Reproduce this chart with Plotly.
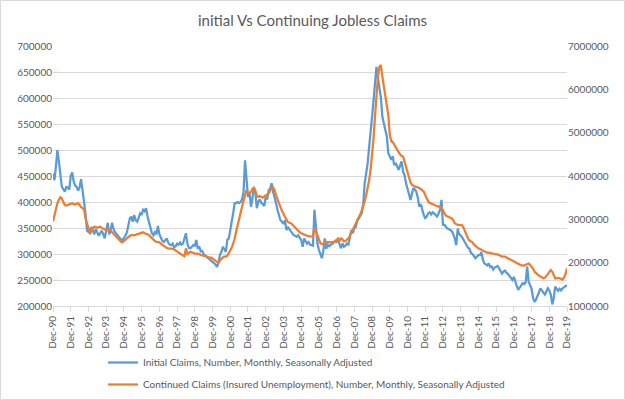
import pandas as pd
import plotly.graph_objects as go

# Monthly observations, Dec 1990 .. Dec 2019
months = pd.date_range("1990-12-01", "2019-12-01", freq="MS")

# Initial claims (thousands), first value = Dec-1990, then one row per year Jan..Dec
initial_claims_k = [
    455,
    442, 470, 500, 478, 455, 429, 425, 420, 429, 428, 424, 450,   # 1991
    457, 439, 432, 429, 422, 428, 444, 420, 405, 378, 345, 343,   # 1992
    340, 352, 345, 338, 348, 342, 335, 340, 345, 338, 330, 345,   # 1993
    360, 338, 345, 360, 348, 342, 338, 335, 332, 328, 327, 330,   # 1994
    335, 342, 352, 368, 372, 362, 375, 365, 362, 372, 378, 375,   # 1995
    385, 382, 388, 372, 360, 346, 340, 336, 342, 338, 354, 338,   # 1996
    330, 325, 323, 328, 330, 322, 318, 317, 320, 313, 315, 320,   # 1997
    318, 322, 318, 320, 328, 340, 320, 312, 311, 314, 317, 316,   # 1998
    327, 310, 315, 305, 306, 300, 298, 295, 292, 290, 288, 285,   # 1999
    282, 280, 275, 283, 298, 304, 314, 308, 304, 327, 330, 346,   # 2000
    360, 380, 398, 398, 400, 398, 400, 405, 420, 480, 445, 410,   # 2001
    417, 391, 405, 429, 420, 388, 400, 405, 398, 396, 392, 410,   # 2002
    405, 423, 425, 436, 420, 410, 398, 385, 372, 365, 362, 358,   # 2003
    365, 346, 352, 348, 343, 340, 336, 335, 333, 336, 330, 327,   # 2004
    314, 330, 325, 320, 323, 318, 317, 316, 385, 346, 320, 308,   # 2005
    300, 292, 305, 330, 310, 318, 315, 317, 320, 322, 325, 323,   # 2006
    327, 320, 311, 320, 314, 316, 320, 318, 330, 346, 340, 350,   # 2007
    352, 365, 368, 372, 378, 395, 436, 455, 474, 505, 530, 564,   # 2008
    596, 630, 660, 638, 615, 600, 564, 551, 538, 526, 494, 488,   # 2009
    481, 488, 471, 475, 470, 462, 470, 478, 458, 452, 436, 423,   # 2010
    415, 404, 418, 427, 424, 420, 408, 391, 396, 385, 375, 369,   # 2011
    372, 378, 380, 376, 380, 378, 375, 372, 378, 385, 404, 356,   # 2012
    356, 352, 349, 348, 346, 344, 338, 330, 317, 349, 338, 336,   # 2013
    332, 328, 322, 317, 312, 310, 302, 300, 296, 292, 295, 298,   # 2014
    298, 304, 290, 282, 280, 278, 282, 275, 276, 270, 274, 276,   # 2015
    277, 272, 268, 262, 266, 268, 264, 262, 258, 253, 250, 256,   # 2016
    245, 238, 231, 236, 240, 244, 242, 245, 276, 247, 240, 233,   # 2017
    215, 208, 212, 218, 226, 234, 230, 227, 222, 228, 234, 230,   # 2018
    222, 203, 214, 237, 232, 229, 233, 230, 234, 236, 238, 240,   # 2019
]

# Continued claims (millions), same months
continued_claims_m = [
    2.95,
    3.10, 3.25, 3.37, 3.45, 3.51, 3.48, 3.38, 3.33, 3.32, 3.33, 3.34, 3.35,   # 1991
    3.37, 3.35, 3.34, 3.36, 3.37, 3.33, 3.28, 3.26, 3.22, 3.02, 2.91, 2.78,   # 1992
    2.68, 2.72, 2.80, 2.83, 2.82, 2.81, 2.82, 2.83, 2.80, 2.79, 2.77, 2.75,   # 1993
    2.78, 2.77, 2.74, 2.71, 2.67, 2.64, 2.60, 2.56, 2.52, 2.48, 2.47, 2.50,   # 1994
    2.53, 2.57, 2.60, 2.62, 2.63, 2.64, 2.63, 2.64, 2.65, 2.66, 2.68, 2.69,   # 1995
    2.70, 2.68, 2.67, 2.66, 2.64, 2.60, 2.56, 2.52, 2.50, 2.48, 2.48, 2.47,   # 1996
    2.44, 2.41, 2.39, 2.36, 2.34, 2.33, 2.33, 2.33, 2.32, 2.31, 2.28, 2.25,   # 1997
    2.23, 2.21, 2.19, 2.17, 2.15, 2.33, 2.20, 2.22, 2.25, 2.24, 2.22, 2.21,   # 1998
    2.21, 2.21, 2.20, 2.18, 2.17, 2.17, 2.16, 2.14, 2.13, 2.11, 2.12, 2.10,   # 1999
    2.06, 2.04, 2.02, 2.00, 2.05, 2.09, 2.12, 2.14, 2.14, 2.16, 2.22, 2.29,   # 2000
    2.35, 2.45, 2.55, 2.72, 2.88, 3.02, 3.15, 3.29, 3.43, 3.58, 3.68, 3.62,   # 2001
    3.60, 3.64, 3.70, 3.72, 3.66, 3.55, 3.52, 3.54, 3.52, 3.50, 3.53, 3.55,   # 2002
    3.56, 3.60, 3.66, 3.72, 3.74, 3.68, 3.56, 3.45, 3.36, 3.28, 3.20, 3.12,   # 2003
    3.06, 3.00, 2.94, 2.92, 2.91, 2.88, 2.84, 2.81, 2.76, 2.73, 2.70, 2.68,   # 2004
    2.66, 2.64, 2.63, 2.62, 2.61, 2.60, 2.60, 2.62, 2.80, 2.72, 2.62, 2.52,   # 2005
    2.45, 2.43, 2.44, 2.46, 2.47, 2.48, 2.47, 2.48, 2.48, 2.47, 2.50, 2.52,   # 2006
    2.56, 2.50, 2.56, 2.54, 2.49, 2.50, 2.53, 2.56, 2.62, 2.72, 2.76, 2.83,   # 2007
    2.88, 2.95, 3.05, 3.12, 3.20, 3.30, 3.42, 3.55, 3.72, 3.90, 4.15, 4.45,   # 2008
    4.88, 5.40, 5.95, 6.30, 6.52, 6.56, 6.30, 6.08, 5.94, 5.72, 5.40, 4.95,   # 2009
    4.80, 4.78, 4.72, 4.68, 4.62, 4.55, 4.50, 4.46, 4.45, 4.33, 4.22, 4.10,   # 2010
    3.98, 3.85, 3.80, 3.77, 3.76, 3.75, 3.74, 3.72, 3.70, 3.68, 3.64, 3.56,   # 2011
    3.48, 3.41, 3.38, 3.36, 3.35, 3.33, 3.32, 3.31, 3.30, 3.29, 3.27, 3.20,   # 2012
    3.12, 3.08, 3.07, 3.05, 3.03, 3.02, 2.98, 2.91, 2.89, 2.87, 2.87, 2.86,   # 2013
    2.86, 2.80, 2.72, 2.64, 2.56, 2.51, 2.49, 2.47, 2.42, 2.38, 2.36, 2.33,   # 2014
    2.31, 2.29, 2.27, 2.25, 2.24, 2.23, 2.23, 2.22, 2.22, 2.21, 2.20, 2.19,   # 2015
    2.19, 2.18, 2.16, 2.14, 2.14, 2.14, 2.12, 2.10, 2.08, 2.07, 2.06, 2.04,   # 2016
    2.02, 2.00, 1.97, 1.95, 1.94, 1.94, 1.93, 1.95, 1.96, 1.98, 1.95, 1.91,   # 2017
    1.86, 1.79, 1.76, 1.72, 1.70, 1.68, 1.66, 1.64, 1.65, 1.70, 1.75, 1.80,   # 2018
    1.83, 1.79, 1.72, 1.64, 1.64, 1.65, 1.64, 1.62, 1.61, 1.66, 1.74, 1.87,   # 2019
]

initial_claims = [v * 1000 for v in initial_claims_k]
continued_claims = [v * 1_000_000 for v in continued_claims_m]

title_text = "initial Vs Continuing Jobless Claims"
name_initial = "Initial Claims, Number, Monthly, Seasonally Adjusted"
name_continued = "Continued Claims (Insured Unemployment), Number, Monthly, Seasonally Adjusted"

BLUE = "#5B9BD5"
ORANGE = "#ED7D31"
GRID = "#D9D9D9"
TEXT = "#595959"
FONT = "Lato, 'Open Sans', sans-serif"

fig = go.Figure()
fig.add_trace(go.Scatter(x=months, y=initial_claims, name=name_initial, mode="lines",
                         legendgroup="a",
                         line=dict(color=BLUE, width=2.25), yaxis="y"))
fig.add_trace(go.Scatter(x=months, y=continued_claims, name=name_continued, mode="lines",
                         legendgroup="b",
                         line=dict(color=ORANGE, width=2.25), yaxis="y2"))

W, H = 625, 400
L, R, T, B = 53, 58, 46, 94
pw, ph = W - L - R, H - T - B

fig.update_layout(
    width=W, height=H,
    margin=dict(l=L, r=R, t=T, b=B, pad=0, autoexpand=False),
    paper_bgcolor="white", plot_bgcolor="white",
    font=dict(family=FONT, size=10, color=TEXT),
    title=dict(text=title_text, x=0.5, xanchor="center", y=1 - 21 / H, yanchor="middle",
               font=dict(family=FONT, size=15, color=TEXT)),
    xaxis=dict(type="date", range=[months[0], months[-1]], tick0="1990-12-01", dtick="M12",
               tickformat="%b-%y", tickangle=-90, showgrid=False, showline=True,
               linecolor=GRID, linewidth=1, ticks="outside", ticklen=5, tickcolor=GRID,
               tickfont=dict(size=10, color=TEXT), zeroline=False, automargin=False),
    yaxis=dict(range=[200000, 700000], dtick=50000, tickformat="d", showgrid=True,
               gridcolor=GRID, gridwidth=1, zeroline=False, showline=False,
               ticks="", tickfont=dict(size=10, color=TEXT), automargin=False),
    yaxis2=dict(range=[1000000, 7000000], dtick=1000000, tickformat="d", overlaying="y",
                side="right", showgrid=False, zeroline=False, showline=False, ticks="",
                tickfont=dict(size=10, color=TEXT), automargin=False),
    legend=dict(orientation="v", x=(103 - L) / pw, xanchor="left",
                y=-(348 - (T + ph)) / ph, yanchor="top",
                font=dict(size=10, color=TEXT), bgcolor="rgba(0,0,0,0)",
                itemwidth=30, tracegroupgap=3),
    showlegend=True,
)

# chart-area border
fig.add_shape(type="rect", xref="paper", yref="paper",
              x0=(0.5 - L) / pw, x1=(W - 0.5 - L) / pw,
              y0=-(H - 0.5 - T - ph) / ph, y1=1 + (T - 0.5) / ph,
              line=dict(color=GRID, width=1), fillcolor="rgba(0,0,0,0)", layer="below")

fig.write_html("out.html")
